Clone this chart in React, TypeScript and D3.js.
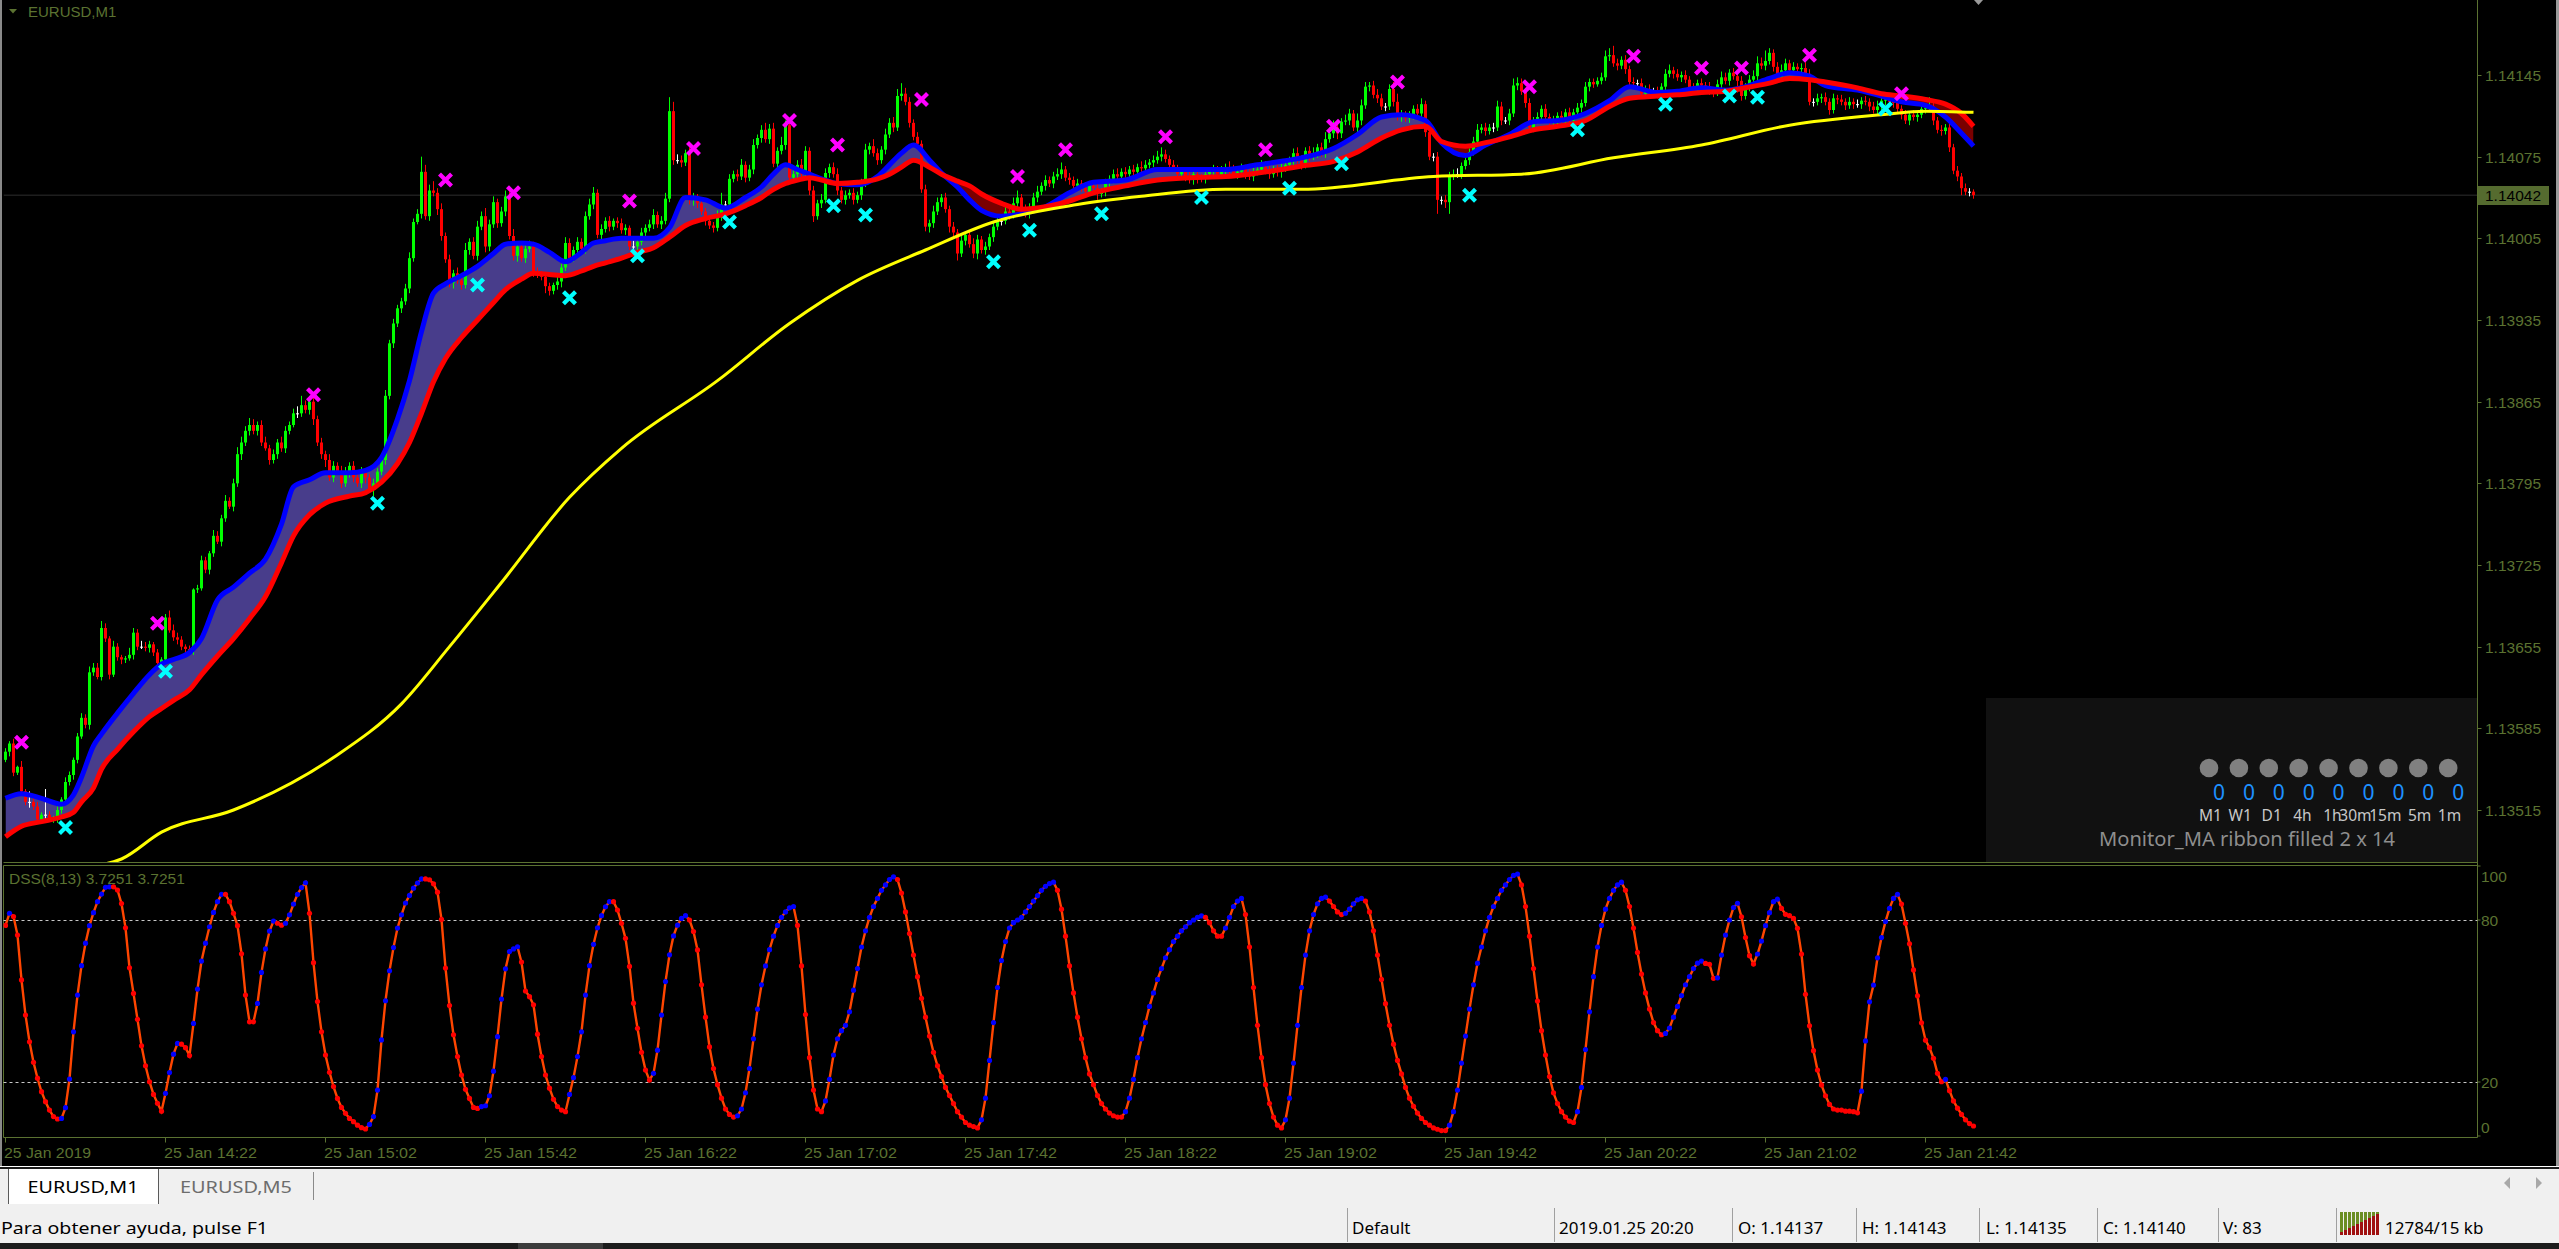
import React, { useEffect } from 'react';
import * as d3 from 'd3';

// ---------------- DATA ----------------
// prices are stored as points above BASE_PRICE (1 point = 0.00001)
const BASE_PRICE = 1.134;
const FIRST_OPEN = 158;
// M1 closes, one per bar from 25 Jan 13:42
const CLOSE = [
  165,172,147,152,131,122,122,118,107,111,
  111,107,108,115,124,139,145,158,178,194,
  188,233,237,229,271,262,231,255,246,244,
  245,248,267,255,255,254,257,250,241,244,
  280,269,263,261,255,253,252,304,305,329,
  321,335,350,345,365,380,375,395,420,430,
  440,445,440,445,430,425,415,420,430,425,
  440,445,455,455,462,458,465,450,430,420,
  415,400,410,405,395,405,410,400,395,405,
  400,390,395,405,415,470,515,532,545,551,
  562,588,619,626,662,624,646,644,630,607,
  587,567,575,569,565,595,602,590,615,624,
  598,617,636,618,628,641,607,590,598,588,
  596,598,577,575,572,564,560,565,568,580,
  601,588,595,602,596,624,634,644,608,613,
  620,615,620,618,612,614,598,598,602,610,
  614,617,625,617,620,639,714,672,672,670,
  678,638,640,635,628,620,616,614,624,634,
  634,656,660,658,668,657,664,685,691,698,
  690,699,669,680,685,702,657,660,668,660,
  680,646,624,635,638,661,666,660,646,638,
  642,644,638,642,652,681,684,678,672,681,
  694,704,700,727,729,722,704,692,686,647,
  615,618,628,636,640,630,615,610,592,603,
  608,600,592,604,595,598,606,615,620,620,
  628,625,635,640,630,626,632,640,645,650,
  655,652,658,660,664,657,655,650,652,648,
  645,650,648,643,645,652,656,660,658,662,
  660,664,662,666,665,668,670,672,675,677,
  673,668,665,660,662,658,655,660,657,656,
  660,662,664,660,663,666,664,660,662,665,
  660,658,662,664,666,663,660,664,662,666,
  668,672,678,672,668,680,675,678,683,678,
  690,695,700,695,705,706,712,700,706,719,
  735,736,728,725,718,718,733,722,709,711,
  708,710,716,712,720,696,675,675,638,638,
  636,659,660,660,667,672,679,688,698,700,
  697,700,700,718,706,706,712,736,738,731,
  721,700,706,709,716,709,705,706,710,707,
  713,706,713,717,721,735,739,737,740,743,
  761,762,755,753,758,750,739,738,738,729,
  733,731,731,729,735,746,749,746,743,745,
  741,734,732,738,736,735,731,730,737,743,
  740,747,744,740,727,735,741,744,755,753,
  757,764,752,743,749,755,749,752,750,751,
  746,722,722,725,726,722,715,725,724,722,
  719,722,720,720,723,722,718,715,718,723,
  724,722,721,716,711,706,711,709,711,716,
  717,718,706,698,697,700,683,663,658,648,
  645,645,642
];
const WICK_UP = [
  3,2,4,1,5,2,9,3,4,2,22,3,2,3,2,4,3,2,3,4,3,5,4,4,6,
  4,2,5,3,2,2,6,4,3,5,4,3,2,3,2,3,6,5,4,3,2,3,1,3,4,
  3,2,5,4,3,5,3,4,6,5,4,6,5,3,4,5,3,4,3,5,4,3,4,6,8,
  4,5,6,3,4,3,5,4,3,5,4,3,4,5,4,3,3,4,3,4,5,3,4,3,3,
  4,5,3,4,13,6,5,8,4,5,3,4,3,5,4,6,3,4,5,4,7,4,5,3,4,
  5,4,6,3,4,3,5,4,3,2,4,3,2,4,3,5,4,3,4,3,4,5,5,3,4,
  3,4,2,3,4,3,2,5,3,4,3,4,5,3,4,5,12,8,5,4,3,5,4,3,4,
  3,4,3,5,10,3,4,3,4,5,3,4,5,3,4,6,4,5,3,7,4,5,3,4,5,
  4,3,4,3,5,4,3,4,5,3,4,3,4,3,4,5,3,6,4,3,5,4,5,6,9,
  5,4,3,4,3,4,3,5,4,3,4,3,4,3,4,3,4,5,4,3,4,3,4,3,4,
  4,3,5,6,3,4,3,4,5,3,4,3,4,5,6,3,4,3,4,3,5,4,3,4,3,
  4,3,4,5,3,4,3,4,3,5,4,3,4,5,6,4,3,4,3,4,3,4,3,4,3,
  4,3,4,3,4,3,5,4,3,4,3,4,5,4,6,5,4,3,4,3,4,3,4,5,4,
  3,4,5,3,4,6,5,6,4,3,5,4,3,6,5,4,3,4,5,4,3,4,6,7,4,
  3,4,3,4,5,3,4,3,4,3,4,3,4,5,3,4,3,4,5,3,4,3,4,5,4,
  3,4,6,5,4,3,4,3,4,3,4,3,4,3,4,3,4,3,4,3,4,3,3,3,4,
  5,6,8,4,3,4,3,4,3,4,3,4,3,4,3,4,5,3,4,3,4,3,4,3,4,
  3,4,3,4,5,4,3,4,5,4,3,4,5,6,5,9,4,3,4,5,4,3,4,3,4,
  5,4,3,4,3,4,3,4,3,4,3,4,3,4,3,4,3,4,5,4,5,4,3,4,3,
  4,3,4,3,4,3,8,4,3,4,3,4,3,4,3,4,3,2
];
const WICK_DN = [
  2,4,3,2,4,3,5,3,4,3,4,2,3,4,3,2,3,4,3,2,3,4,3,2,3,
  3,4,2,3,4,3,2,4,3,2,3,4,3,5,4,3,2,3,4,3,3,2,4,3,2,
  3,4,3,2,4,3,2,4,3,5,3,4,3,4,3,2,4,3,4,3,4,3,2,4,3,
  3,4,5,3,4,6,3,4,3,4,3,5,4,3,4,5,3,6,4,3,4,3,4,3,4,
  3,4,3,2,4,3,4,3,5,4,3,4,5,3,4,3,4,3,4,3,5,4,3,4,3,
  4,3,4,5,3,4,3,5,4,3,6,4,3,4,5,3,4,3,4,3,4,3,4,3,4,
  3,4,3,4,3,4,3,4,5,3,4,3,4,3,4,3,3,4,3,4,3,4,5,4,3,
  4,3,4,3,4,3,4,3,4,3,4,3,4,3,4,3,4,3,4,3,4,3,4,3,4,
  3,4,5,3,4,3,4,3,4,3,4,3,4,3,4,3,4,3,4,3,4,3,4,3,4,
  3,4,3,4,3,4,5,4,3,4,3,5,4,6,3,4,3,4,5,3,4,3,4,3,4,
  3,4,3,4,5,3,4,3,4,3,4,3,4,3,4,3,4,3,4,3,4,3,4,5,3,
  4,3,4,3,4,3,4,3,4,3,4,3,4,3,4,3,4,3,4,3,4,3,4,5,3,
  4,3,4,3,4,3,4,3,4,3,4,3,4,3,4,3,4,3,4,5,4,3,4,3,4,
  3,4,3,4,3,4,3,4,5,4,3,4,3,6,4,3,4,3,4,3,4,3,4,3,4,
  3,4,3,4,3,4,3,4,12,4,5,10,4,3,4,3,4,3,4,3,4,3,4,3,4,
  3,4,3,4,3,4,3,4,3,4,3,4,3,4,3,4,3,4,3,4,3,4,3,2,3,
  3,4,3,4,3,4,3,4,3,4,3,4,3,4,3,4,3,4,3,4,3,4,3,4,3,
  4,3,4,3,4,3,4,3,10,4,3,4,3,4,3,4,3,4,3,4,3,4,3,4,3,
  4,3,4,3,4,3,4,3,4,3,4,3,4,3,4,3,4,3,4,3,4,3,4,3,4,
  3,4,3,4,3,4,3,4,3,4,3,4,3,4,6,3,4,3
];

// MA ribbon (blue = fast, red = slow) read at sample bars
const RIB_BARS = [0,4,9,14,17,19,22,24,28,32,36,39,42,46,49,53,57,61,65,69,72,76,80,86,90,94,98,101,104,107,110,114,118,122,125,129,132,136,140,144,147,150,154,158,162,166,170,175,180,185,189,192,195,198,201,204,208,213,218,221,224,227,231,234,238,241,244,249,254,260,266,272,280,288,296,305,313,319,324,332,338,344,349,355,359,365,370,376,382,388,395,401,406,413,418,424,430,435,441,446,451,455,463,469,474,480,485,489,492];
const RIB_BLUE = [125,129,125,120,128,143,170,180,198,215,231,240,244,250,262,295,306,318,330,360,392,398,404,404,406,417,450,483,525,558,566,573,581,592,600,601,600,593,585,593,601,603,605,605,605,614,640,638,631,640,649,660,668,664,660,656,652,651,658,668,678,685,672,661,649,638,629,624,626,632,644,653,655,664,664,664,668,671,674,682,694,709,711,706,687,676,685,694,705,706,712,723,735,730,731,734,732,735,742,747,744,736,732,727,722,719,709,695,684];
const RIB_RED = [92,101,105,109,113,122,134,150,167,182,195,202,209,218,231,247,262,279,298,327,350,368,378,384,387,396,412,430,455,482,502,520,535,550,561,570,575,574,573,577,581,584,588,593,597,606,616,622,626,633,640,647,652,655,657,655,652,653,656,660,666,672,666,660,654,650,643,635,630,632,637,644,650,655,657,658,661,664,667,671,679,691,698,701,688,684,687,692,698,701,706,718,725,727,728,730,731,734,738,742,741,739,734,729,727,724,720,712,701];

// long moving average (yellow)
const YEL_BARS = [24,29,39,57,82,99,111,124,141,154,178,196,213,230,247,268,284,305,324,357,379,402,424,446,469,480,492];
const YEL_VALS = [68,73,96,115,160,206,255,310,383,425,483,532,569,595,619,634,641,647,647,658,660,674,685,702,711,714,713];

// signal crosses
const PINK_BARS = [4,38,77,110,127,156,172,196,208,229,253,265,290,315,332,348,381,407,424,434,451,474];
const PINK_VALS = [173,275,471,655,644,637,682,706,685,724,658,681,692,681,701,739,735,761,751,751,762,729];
const CYAN_BARS = [15,40,93,118,141,158,181,207,215,247,256,274,299,321,334,366,393,415,431,438,470];
const CYAN_VALS = [100,234,378,565,554,590,619,633,625,585,612,626,640,648,669,642,698,720,727,726,716];

// DSS(8,13), one value per bar
const DSS = [
  78,82.5,81.3,74.4,57.8,44.8,34.9,27.3,21.4,16.4,
  12.7,9.6,7.2,6.3,6.5,10.5,21.1,38.6,52.2,63.1,
  71.4,77.9,82.7,86.8,89.6,92.1,92.3,92.3,91.1,86.1,
  77.1,62.3,52.8,43.2,33.4,26,20.1,15.4,12.1,9.2,
  15.8,23.5,30.3,34.3,34,32.7,29.8,41.7,54.4,64.8,
  71.4,77.5,82.8,86.8,89.5,89.5,86.8,82.5,77.9,67.5,
  52.2,42.3,42.3,49.1,60.6,69.3,75.9,79.6,78.8,78.1,
  78.8,81.9,85.9,89.5,92,93.8,82.5,64.2,49.8,38.6,
  30,23.6,18.3,13.9,10.6,8.4,6.5,5.3,4,3.1,
  2.6,4.3,7.2,17,35.6,50.1,61.2,69.8,77,81.9,
  86.3,89.1,91.8,93.7,95.2,95.2,94.9,93.4,90.3,80.2,
  62.2,48.3,37.5,29.4,22.6,17.3,13.9,10.6,10.2,10.9,
  11.2,14.9,24,36.8,50.7,61.9,68.3,69.3,70.1,64.4,
  53.7,51.6,48.6,37.7,29.4,22.6,17.7,13.6,10.9,9.6,
  9,15.4,21.6,29.4,38.6,52.2,63.1,71,77.1,81.6,
  84.9,86.8,86.8,83.7,78.8,73.2,62.8,49.2,39.9,31,
  24.4,20.7,23.2,31.8,44.8,57.2,67.1,74.1,78.1,80.6,
  81.6,80,75.7,68.9,56,
  44,33,25,19,14,10,8,7,7.5,10,
  16,25,36,47,56,63,69,74,78,81,83,84.5,85,
  78,63,45,29,17,10,9,
  13,21,30,36,39,41,46,54,62,70,76,81,85,88,91,93,95,96,95,
  90,83,75,67,59,51,44,37,31,26,22,18,15,12,9,7,5,4,3.5,3,
  6,14,28,42,55,65,72,77,79,80,81,83,85,87,89,91,92.5,93.5,94,
  91,84,74,63,53,44,36,29,23,19,15,12,10,8.5,7.5,7,7,
  9,14,21,29,36,42,48,53,58,62,66,69,72,74,76,77.5,79,80,81,81.5,81,79,76,74,74,77,81,85,87,88,
  82,70,55,41,29,19,12,7,4,3,
  6,14,27,41,55,67,76,82,86,88,88.5,87,85,83,82,82.5,84,86,87.5,88,87,
  83,76,67,58,49,41,34,28,23,18,14,11,8.5,6.5,5,4,3,2.5,2,2,
  4,9,17,27,37,47,56,64,70,76,81,85,88,91,93,95,96.5,97,
  93,85,74,62,50,39,30,22,16,12,9,7,5.5,5,
  9,18,32,46,59,70,78,84,88,91,93,94,
  91,85,77,68,60,53,47,42,39,37.5,38,40,44,48,52,56,59,62,64,
  64.8,63.9,63.6,58.4,58.6,67,74.4,80,84.6,86.2,
  81.2,73.5,66.8,63.7,67.4,72.2,77.9,82.7,86.8,87.7,
  84.3,82.1,81.6,80.6,76.9,67.4,52.5,40.8,31.6,24.4,
  18.9,14.9,11.7,10,9.6,9.6,9.2,9.2,9,8.6,
  16.6,35.2,49.7,55.9,66,73.5,79.4,84.3,88,89.5,
  85.9,78.8,71.2,61.5,51.9,41.9,35.5,32.7,28.8,23.2,
  20.1,21,16.8,13,10.3,8,6,4.6,3.7
];

const TIME_LABEL_BARS = [0,40,80,120,160,200,240,280,320,360,400,440,480];
const TIME_LABELS = ['25 Jan 2019','25 Jan 14:22','25 Jan 15:02','25 Jan 15:42','25 Jan 16:22','25 Jan 17:02','25 Jan 17:42','25 Jan 18:22','25 Jan 19:02','25 Jan 19:42','25 Jan 20:22','25 Jan 21:02','25 Jan 21:42'];
const PRICE_TICKS = [1.13515,1.13585,1.13655,1.13725,1.13795,1.13865,1.13935,1.14005,1.14075,1.14145];
const CURRENT_PRICE = 1.14042;
const DSS_TICKS = [100,80,20,0];
const DSS_LEVELS = [80,20];
const DSS_TITLE = 'DSS(8,13) 3.7251 3.7251';
const MON_TF = ['M1','W1','D1','4h','1h','30m','15m','5m','1m'];
const MON_VAL = [0,0,0,0,0,0,0,0,0];
const STATUS_ITEMS = ['Default','2019.01.25 20:20','O: 1.14137','H: 1.14143','L: 1.14135','C: 1.14140','V: 83'];

// ---------------- LAYOUT ----------------
const W = 2559, H = 1249;
const L = 3.5, R = 2477.5, MAIN_B = 862.5, SUB_T = 865.5, SUB_B = 1137.5;
const OLIVE = '#5b7231';
const AX = "'Liberation Sans', Arial, sans-serif";
const UI = "'Noto Sans', 'Open Sans', sans-serif";

const P = (v: number) => BASE_PRICE + v / 1e5;

export default function App() {
  useEffect(() => {
    document.body.style.margin = '0';
    document.body.style.overflow = 'hidden';
    document.body.style.background = '#000';
  }, []);

  const n = CLOSE.length;
  const x = d3.scaleLinear().domain([0, n - 1]).range([5.5, 5.5 + 4 * (n - 1)]);
  const y = d3.scaleLinear().domain([1.13515, 1.14145]).range([810, 75]);
  const yd = d3.scaleLinear().domain([0, 100]).range([1136, 866]);

  const bars = CLOSE.map((c, i) => {
    const o = i === 0 ? FIRST_OPEN : CLOSE[i - 1];
    return { i, o, c, hi: Math.max(o, c) + WICK_UP[i], lo: Math.min(o, c) - WICK_DN[i] };
  });

  const rib = RIB_BARS.map((b, k) => ({ b, bl: RIB_BLUE[k], rd: RIB_RED[k] }));
  const curve = d3.curveMonotoneX;
  const between = d3.area<any>().x(d => x(d.b)).y0(d => y(P(d.rd))).y1(d => y(P(d.bl))).curve(curve)(rib) || '';
  const aboveRed = d3.area<any>().x(d => x(d.b)).y0(0).y1(d => y(P(d.rd))).curve(curve)(rib) || '';
  const belowRed = d3.area<any>().x(d => x(d.b)).y0(d => y(P(d.rd))).y1(MAIN_B).curve(curve)(rib) || '';
  const blueLine = d3.line<any>().x(d => x(d.b)).y(d => y(P(d.bl))).curve(curve)(rib) || '';
  const redLine = d3.line<any>().x(d => x(d.b)).y(d => y(P(d.rd))).curve(curve)(rib) || '';
  const yel = YEL_BARS.map((b, k) => ({ b, v: YEL_VALS[k] }));
  const yelLine = d3.line<any>().x(d => x(d.b)).y(d => y(P(d.v))).curve(curve)(yel) || '';

  const dss = DSS.map((v, b) => ({ b, v }));
  const dssLine = d3.line<any>().x(d => x(d.b)).y(d => yd(d.v))(dss) || '';

  const cross = (cx: number, cy: number) => `M${cx - 6},${cy - 6}L${cx + 6},${cy + 6}M${cx + 6},${cy - 6}L${cx - 6},${cy + 6}`;

  const monX0 = 2209; // first lamp
  const sepX = [1347, 1554, 1732, 1856, 1979, 2097, 2218, 2336];
  const statX = [1352, 1559, 1738, 1862, 1986, 2103, 2223];

  return (
    <svg width={W} height={H} style={{ position: 'absolute', left: 0, top: 0, display: 'block' }}>
      <defs>
        <clipPath id="mainClip"><rect x={L} y={0} width={R - L} height={MAIN_B} /></clipPath>
        <clipPath id="aboveRed"><path d={aboveRed} /></clipPath>
        <clipPath id="belowRed"><path d={belowRed} /></clipPath>
        <clipPath id="subClip"><rect x={L} y={SUB_T} width={R - L} height={SUB_B - SUB_T} /></clipPath>
      </defs>
      <rect x={0} y={0} width={W} height={1166} fill="#000" />
      {/* window borders */}
      <rect x={0} y={0} width={2} height={1166} fill="#8a8a8a" />
      <rect x={2556} y={0} width={3} height={1166} fill="#9a9a9a" />

      {/* ---------- main chart ---------- */}
      <g clipPath="url(#mainClip)">
        <line x1={L} x2={R} y1={y(CURRENT_PRICE)} y2={y(CURRENT_PRICE)} stroke="#2e2e2e" strokeWidth={1} />
        <path d={between} fill="#483d8b" clipPath="url(#aboveRed)" />
        <path d={between} fill="#7a0000" clipPath="url(#belowRed)" />
        {bars.map(b => {
          const col = b.c > b.o ? '#00ff00' : b.c < b.o ? '#ff0000' : '#ffffff';
          const top = y(P(Math.max(b.o, b.c)));
          const bot = y(P(Math.min(b.o, b.c)));
          return (
            <g key={b.i}>
              <rect x={x(b.i) - 0.5} y={y(P(b.hi))} width={1} height={Math.max(1, y(P(b.lo)) - y(P(b.hi)))} fill={col} />
              <rect x={x(b.i) - 1.5} y={top} width={3} height={Math.max(1, bot - top)} fill={col} />
            </g>
          );
        })}
        <path d={blueLine} fill="none" stroke="#0000ff" strokeWidth={5} />
        <path d={redLine} fill="none" stroke="#ff0000" strokeWidth={5} />
        <path d={yelLine} fill="none" stroke="#ffff00" strokeWidth={3} />
        {PINK_BARS.map((b, k) => (
          <path key={'p' + k} d={cross(x(b), y(P(PINK_VALS[k])))} stroke="#ff00ff" strokeWidth={4.2} fill="none" />
        ))}
        {CYAN_BARS.map((b, k) => (
          <path key={'c' + k} d={cross(x(b), y(P(CYAN_VALS[k])))} stroke="#00ffff" strokeWidth={4.2} fill="none" />
        ))}
      </g>

      {/* chart title */}
      <path d="M9,9L17,9L13,13.5Z" fill={OLIVE} />
      <text x={28} y={17} fontFamily={AX} fontSize={15} fill={OLIVE}>EURUSD,M1</text>
      {/* shift marker */}
      <path d="M1974,0L1983,0L1978.5,5Z" fill="#9a9a9a" />

      {/* monitor panel */}
      <rect x={1986} y={698} width={R - 0.5 - 1986} height={MAIN_B - 0.5 - 698} fill="#111111" />
      {MON_TF.map((tf, k) => {
        const cx = monX0 + k * 29.9;
        return (
          <g key={tf}>
            <circle cx={cx} cy={768} r={9.3} fill="#808080" />
            <text x={cx + 10} y={800} textAnchor="middle" fontFamily={UI} fontSize={21} fill="#1e90ff">{MON_VAL[k]}</text>
            <text x={cx + 13} y={821} textAnchor="end" fontFamily={UI} fontSize={15.5} fill="#c8c8c8">{tf}</text>
          </g>
        );
      })}
      <text x={2099} y={846} fontFamily={UI} fontSize={19.5} fill="#8e8e8e" textLength={296} lengthAdjust="spacingAndGlyphs">Monitor_MA ribbon filled 2 x 14</text>

      {/* frames */}
      <line x1={R} x2={R} y1={0} y2={SUB_B} stroke={OLIVE} strokeWidth={1} />
      <line x1={L} x2={R} y1={MAIN_B} y2={MAIN_B} stroke={OLIVE} strokeWidth={1} />
      <line x1={L} x2={R} y1={SUB_T} y2={SUB_T} stroke={OLIVE} strokeWidth={1} />
      <line x1={L} x2={R} y1={SUB_B} y2={SUB_B} stroke={OLIVE} strokeWidth={1} />
      <line x1={L} x2={L} y1={SUB_T} y2={SUB_B} stroke={OLIVE} strokeWidth={1} />

      {/* price axis */}
      {PRICE_TICKS.map(t => (
        <g key={t}>
          <line x1={R} x2={R + 4} y1={Math.round(y(t)) + 0.5} y2={Math.round(y(t)) + 0.5} stroke={OLIVE} />
          <text x={2485} y={y(t) + 6} fontFamily={AX} fontSize={15.5} fill={OLIVE}>{t.toFixed(5)}</text>
        </g>
      ))}
      <rect x={2478} y={186} width={71} height={19} fill="#556b2f" />
      <text x={2485} y={y(CURRENT_PRICE) + 6} fontFamily={AX} fontSize={15.5} fill="#000">{CURRENT_PRICE.toFixed(5)}</text>

      {/* ---------- DSS sub window ---------- */}
      <text x={9} y={884} fontFamily={AX} fontSize={15.5} fill={OLIVE}>{DSS_TITLE}</text>
      {DSS_LEVELS.map(l => (
        <line key={l} x1={L} x2={R} y1={Math.round(yd(l)) + 0.5} y2={Math.round(yd(l)) + 0.5} stroke="#c8c8c8" strokeDasharray="3,3" strokeWidth={1} />
      ))}
      <g clipPath="url(#subClip)">
        <path d={dssLine} fill="none" stroke="#ff4500" strokeWidth={2.4} />
        {dss.map((d, k) => {
          const up = k > 0 && d.v > dss[k - 1].v;
          return <circle key={k} cx={x(d.b)} cy={yd(d.v)} r={2.6} fill={up ? '#0000ff' : '#ff0000'} />;
        })}
      </g>
      {DSS_TICKS.map(t => {
        const ty = t === 100 ? 882 : t === 0 ? 1133 : yd(t) + 6;
        return (
          <g key={t}>
            <line x1={R} x2={R + 3} y1={yd(t)} y2={yd(t)} stroke={OLIVE} />
            <text x={2481} y={ty} fontFamily={AX} fontSize={15.5} fill={OLIVE}>{t}</text>
          </g>
        );
      })}

      {/* time axis */}
      {TIME_LABEL_BARS.map((b, k) => (
        <g key={b}>
          <line x1={x(b)} x2={x(b)} y1={SUB_B} y2={SUB_B + 5} stroke={OLIVE} />
          <text x={x(b) - 1.5} y={1158} fontFamily={AX} fontSize={15.5} fill={OLIVE}
            textLength={k === 0 ? 87 : 93} lengthAdjust="spacingAndGlyphs">{TIME_LABELS[k]}</text>
        </g>
      ))}

      {/* ---------- tab bar ---------- */}
      <rect x={0} y={1166} width={W} height={1} fill="#ffffff" />
      <rect x={0} y={1167} width={W} height={2} fill="#1a1a1a" />
      <rect x={0} y={1169} width={W} height={35} fill="#f0f0f0" />
      <rect x={8} y={1169} width={151} height={35} fill="#ffffff" />
      <line x1={8.5} x2={8.5} y1={1169} y2={1204} stroke="#5a5a5a" />
      <line x1={158.5} x2={158.5} y1={1169} y2={1204} stroke="#5a5a5a" />
      <text x={83} y={1193} textAnchor="middle" fontFamily={UI} fontSize={17} fill="#000" textLength={111} lengthAdjust="spacingAndGlyphs">EURUSD,M1</text>
      <text x={236} y={1193} textAnchor="middle" fontFamily={UI} fontSize={17} fill="#6d6d6d" textLength={112} lengthAdjust="spacingAndGlyphs">EURUSD,M5</text>
      <line x1={313.5} x2={313.5} y1={1172} y2={1200} stroke="#8a8a8a" />
      <path d="M2510,1177L2504,1183L2510,1189Z" fill="#a8a8a8" />
      <path d="M2536,1177L2542,1183L2536,1189Z" fill="#a8a8a8" />

      {/* ---------- status bar ---------- */}
      <rect x={0} y={1204} width={W} height={39} fill="#f0f0f0" />
      <text x={1} y={1234} fontFamily={UI} fontSize={17} fill="#000" textLength={267} lengthAdjust="spacingAndGlyphs">Para obtener ayuda, pulse F1</text>
      {sepX.map(sx => (
        <line key={sx} x1={sx + 0.5} x2={sx + 0.5} y1={1208} y2={1242} stroke="#a0a0a0" />
      ))}
      {STATUS_ITEMS.map((s, k) => (
        <text key={s} x={statX[k]} y={1234} fontFamily={UI} fontSize={17} fill="#000">{s}</text>
      ))}
      {d3.range(10).map(k => (
        <g key={'ic' + k}>
          <rect x={2340 + k * 4} y={1212} width={3} height={23 - (3 + 2 * k)} fill="#6b8e23" />
          <rect x={2340 + k * 4} y={1235 - (3 + 2 * k)} width={3} height={3 + 2 * k} fill="#a01010" />
        </g>
      ))}
      <text x={2385} y={1234} fontFamily={UI} fontSize={17} fill="#000">12784/15 kb</text>
      <rect x={0} y={1243} width={W} height={6} fill="#1c1c1c" />
      <rect x={518} y={1243} width={85} height={6} fill="#3c3c3c" />
    </svg>
  );
}
